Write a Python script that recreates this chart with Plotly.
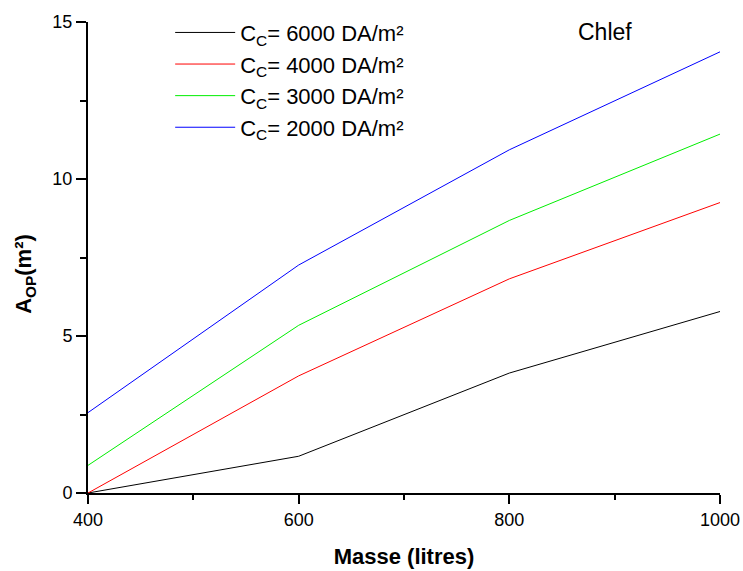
import plotly.graph_objects as go

masse = [400, 600, 800, 1000]
labels = ["C<sub>C</sub>= 6000 DA/m²", "C<sub>C</sub>= 4000 DA/m²",
          "C<sub>C</sub>= 3000 DA/m²", "C<sub>C</sub>= 2000 DA/m²"]
a_6000 = [0.0, 1.17, 3.82, 5.78]
a_4000 = [0.0, 3.73, 6.82, 9.25]
a_3000 = [0.88, 5.34, 8.68, 11.43]
a_2000 = [2.56, 7.26, 10.93, 14.05]
colors = ["#000000", "#ff0000", "#00ee00", "#0000ff"]

L, R, T, B = 88, 23, 18, 78
W, H = 743, 571
PW, PH = W - L - R, H - T - B

fig = go.Figure()
for lab, ys, c in zip(labels, [a_6000, a_4000, a_3000, a_2000], colors):
    fig.add_trace(go.Scatter(x=masse, y=ys, mode="lines", name=lab,
                             line=dict(color=c, width=1)))

fig.add_annotation(text="Chlef", xref="paper", yref="paper",
                   x=(576 - L) / PW, y=1 - (28 - T) / PH,
                   showarrow=False, xanchor="left", yanchor="middle",
                   font=dict(size=23, color="black"))
fig.add_annotation(text="<b>A<sub>OP</sub>(m²)</b>", xref="paper", yref="paper",
                   x=(25 - L) / PW, y=1 - (272 - T) / PH, textangle=-90,
                   showarrow=False, xanchor="center", yanchor="middle",
                   font=dict(size=22, color="black"))

fig.update_layout(
    width=W, height=H,
    margin=dict(l=L, r=R, t=T, b=B),
    paper_bgcolor="white", plot_bgcolor="white",
    font=dict(family="Liberation Sans, Arial, sans-serif", color="black"),
    legend=dict(x=0.13, y=1.022, xanchor="left", yanchor="top",
                font=dict(size=22), bgcolor="rgba(0,0,0,0)",
                itemwidth=60, tracegroupgap=0),
    xaxis=dict(range=[400, 1000], tickvals=[400, 600, 800, 1000],
               automargin=False,
               showgrid=False, zeroline=False, showline=True, linecolor="black",
               linewidth=2, ticks="outside", ticklen=9, tickwidth=2,
               tickcolor="black", tickfont=dict(size=18),
               minor=dict(tickvals=[500, 700, 900], ticks="outside", ticklen=5,
                          tickwidth=2, tickcolor="black"),
               title=dict(text="<b>Masse (litres)</b>", font=dict(size=22),
                          standoff=20)),
    yaxis=dict(range=[0, 15], tickvals=[0, 5, 10, 15],
               automargin=False,
               showgrid=False, zeroline=False, showline=True, linecolor="black",
               linewidth=2, ticks="outside", ticklen=10, tickwidth=2,
               tickcolor="black", tickfont=dict(size=18),
               minor=dict(tickvals=[2.5, 7.5, 12.5], ticks="outside", ticklen=6,
                          tickwidth=2, tickcolor="black")),
)

fig.write_html("out.html")
